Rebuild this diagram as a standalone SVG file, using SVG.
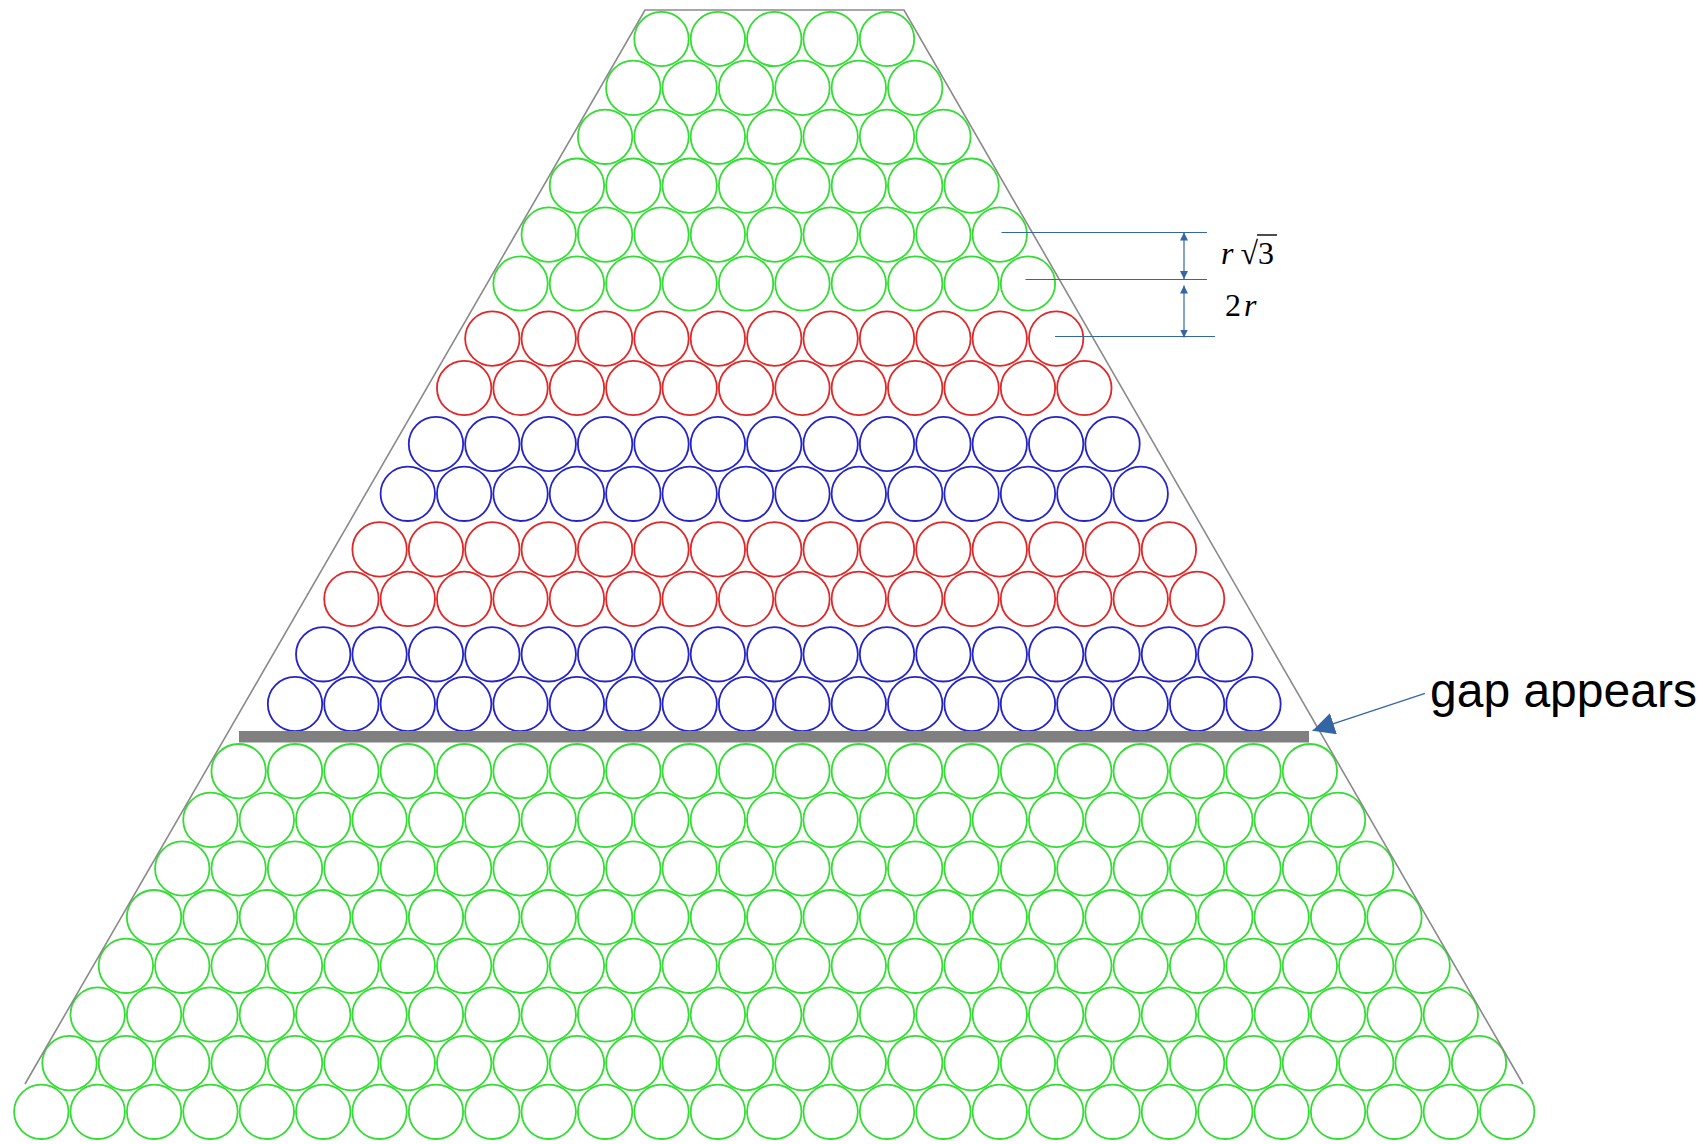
<svg xmlns="http://www.w3.org/2000/svg" width="1703" height="1144" viewBox="0 0 1703 1144">
<style>
circle{fill:none;stroke-width:1.8}
.g circle{stroke:#33dd33}
.r circle{stroke:#e02828}
.b circle{stroke:#2424c8}
.dim{stroke:#3465a4;stroke-width:1.2;fill:none}
.math{font-family:"Liberation Serif","DejaVu Serif",serif;font-size:32px;fill:#000}
</style>
<defs>
<marker id="ah" viewBox="0 0 8 8" refX="8" refY="4" markerWidth="8" markerHeight="8" markerUnits="userSpaceOnUse" orient="auto-start-reverse"><path d="M0,0 L8,4 L0,8 z" fill="#3465a4"/></marker>
<marker id="big" viewBox="0 0 22 22" refX="22" refY="11" markerWidth="22" markerHeight="22" markerUnits="userSpaceOnUse" orient="auto"><path d="M0,0 L22,11 L0,22 z" fill="#3465a4"/></marker>
</defs>
<rect width="1703" height="1144" fill="#fff"/>
<g id="pile">
<g id="row1" class="g" transform="translate(0,39)"><circle cx="661.49" r="27.2"/><circle cx="717.87" r="27.2"/><circle cx="774.25" r="27.2"/><circle cx="830.63" r="27.2"/><circle cx="887.01" r="27.2"/></g>
<g id="row2" class="g" transform="translate(0,87.9)"><circle cx="633.30" r="27.2"/><circle cx="689.68" r="27.2"/><circle cx="746.06" r="27.2"/><circle cx="802.44" r="27.2"/><circle cx="858.82" r="27.2"/><circle cx="915.20" r="27.2"/></g>
<g id="row3" class="g" transform="translate(0,136.8)"><circle cx="605.11" r="27.2"/><circle cx="661.49" r="27.2"/><circle cx="717.87" r="27.2"/><circle cx="774.25" r="27.2"/><circle cx="830.63" r="27.2"/><circle cx="887.01" r="27.2"/><circle cx="943.39" r="27.2"/></g>
<g id="row4" class="g" transform="translate(0,185.7)"><circle cx="576.92" r="27.2"/><circle cx="633.30" r="27.2"/><circle cx="689.68" r="27.2"/><circle cx="746.06" r="27.2"/><circle cx="802.44" r="27.2"/><circle cx="858.82" r="27.2"/><circle cx="915.20" r="27.2"/><circle cx="971.58" r="27.2"/></g>
<g id="row5" class="g" transform="translate(0,234.6)"><circle cx="548.73" r="27.2"/><circle cx="605.11" r="27.2"/><circle cx="661.49" r="27.2"/><circle cx="717.87" r="27.2"/><circle cx="774.25" r="27.2"/><circle cx="830.63" r="27.2"/><circle cx="887.01" r="27.2"/><circle cx="943.39" r="27.2"/><circle cx="999.77" r="27.2"/></g>
<g id="row6" class="g" transform="translate(0,283.5)"><circle cx="520.54" r="27.2"/><circle cx="576.92" r="27.2"/><circle cx="633.30" r="27.2"/><circle cx="689.68" r="27.2"/><circle cx="746.06" r="27.2"/><circle cx="802.44" r="27.2"/><circle cx="858.82" r="27.2"/><circle cx="915.20" r="27.2"/><circle cx="971.58" r="27.2"/><circle cx="1027.96" r="27.2"/></g>
<g id="row7" class="r" transform="translate(0,338.6)"><circle cx="492.35" r="27.2"/><circle cx="548.73" r="27.2"/><circle cx="605.11" r="27.2"/><circle cx="661.49" r="27.2"/><circle cx="717.87" r="27.2"/><circle cx="774.25" r="27.2"/><circle cx="830.63" r="27.2"/><circle cx="887.01" r="27.2"/><circle cx="943.39" r="27.2"/><circle cx="999.77" r="27.2"/><circle cx="1056.15" r="27.2"/></g>
<g id="row8" class="r" transform="translate(0,388)"><circle cx="464.16" r="27.2"/><circle cx="520.54" r="27.2"/><circle cx="576.92" r="27.2"/><circle cx="633.30" r="27.2"/><circle cx="689.68" r="27.2"/><circle cx="746.06" r="27.2"/><circle cx="802.44" r="27.2"/><circle cx="858.82" r="27.2"/><circle cx="915.20" r="27.2"/><circle cx="971.58" r="27.2"/><circle cx="1027.96" r="27.2"/><circle cx="1084.34" r="27.2"/></g>
<g id="row9" class="b" transform="translate(0,444)"><circle cx="435.97" r="27.2"/><circle cx="492.35" r="27.2"/><circle cx="548.73" r="27.2"/><circle cx="605.11" r="27.2"/><circle cx="661.49" r="27.2"/><circle cx="717.87" r="27.2"/><circle cx="774.25" r="27.2"/><circle cx="830.63" r="27.2"/><circle cx="887.01" r="27.2"/><circle cx="943.39" r="27.2"/><circle cx="999.77" r="27.2"/><circle cx="1056.15" r="27.2"/><circle cx="1112.53" r="27.2"/></g>
<g id="row10" class="b" transform="translate(0,493.8)"><circle cx="407.78" r="27.2"/><circle cx="464.16" r="27.2"/><circle cx="520.54" r="27.2"/><circle cx="576.92" r="27.2"/><circle cx="633.30" r="27.2"/><circle cx="689.68" r="27.2"/><circle cx="746.06" r="27.2"/><circle cx="802.44" r="27.2"/><circle cx="858.82" r="27.2"/><circle cx="915.20" r="27.2"/><circle cx="971.58" r="27.2"/><circle cx="1027.96" r="27.2"/><circle cx="1084.34" r="27.2"/><circle cx="1140.72" r="27.2"/></g>
<g id="row11" class="r" transform="translate(0,549.4)"><circle cx="379.59" r="27.2"/><circle cx="435.97" r="27.2"/><circle cx="492.35" r="27.2"/><circle cx="548.73" r="27.2"/><circle cx="605.11" r="27.2"/><circle cx="661.49" r="27.2"/><circle cx="717.87" r="27.2"/><circle cx="774.25" r="27.2"/><circle cx="830.63" r="27.2"/><circle cx="887.01" r="27.2"/><circle cx="943.39" r="27.2"/><circle cx="999.77" r="27.2"/><circle cx="1056.15" r="27.2"/><circle cx="1112.53" r="27.2"/><circle cx="1168.91" r="27.2"/></g>
<g id="row12" class="r" transform="translate(0,598.9)"><circle cx="351.40" r="27.2"/><circle cx="407.78" r="27.2"/><circle cx="464.16" r="27.2"/><circle cx="520.54" r="27.2"/><circle cx="576.92" r="27.2"/><circle cx="633.30" r="27.2"/><circle cx="689.68" r="27.2"/><circle cx="746.06" r="27.2"/><circle cx="802.44" r="27.2"/><circle cx="858.82" r="27.2"/><circle cx="915.20" r="27.2"/><circle cx="971.58" r="27.2"/><circle cx="1027.96" r="27.2"/><circle cx="1084.34" r="27.2"/><circle cx="1140.72" r="27.2"/><circle cx="1197.10" r="27.2"/></g>
<g id="row13" class="b" transform="translate(0,654.3)"><circle cx="323.21" r="27.2"/><circle cx="379.59" r="27.2"/><circle cx="435.97" r="27.2"/><circle cx="492.35" r="27.2"/><circle cx="548.73" r="27.2"/><circle cx="605.11" r="27.2"/><circle cx="661.49" r="27.2"/><circle cx="717.87" r="27.2"/><circle cx="774.25" r="27.2"/><circle cx="830.63" r="27.2"/><circle cx="887.01" r="27.2"/><circle cx="943.39" r="27.2"/><circle cx="999.77" r="27.2"/><circle cx="1056.15" r="27.2"/><circle cx="1112.53" r="27.2"/><circle cx="1168.91" r="27.2"/><circle cx="1225.29" r="27.2"/></g>
<g id="row14" class="b" transform="translate(0,704)"><circle cx="295.02" r="27.2"/><circle cx="351.40" r="27.2"/><circle cx="407.78" r="27.2"/><circle cx="464.16" r="27.2"/><circle cx="520.54" r="27.2"/><circle cx="576.92" r="27.2"/><circle cx="633.30" r="27.2"/><circle cx="689.68" r="27.2"/><circle cx="746.06" r="27.2"/><circle cx="802.44" r="27.2"/><circle cx="858.82" r="27.2"/><circle cx="915.20" r="27.2"/><circle cx="971.58" r="27.2"/><circle cx="1027.96" r="27.2"/><circle cx="1084.34" r="27.2"/><circle cx="1140.72" r="27.2"/><circle cx="1197.10" r="27.2"/><circle cx="1253.48" r="27.2"/></g>
<g id="row15" class="g" transform="translate(0,771.2)"><circle cx="238.64" r="27.2"/><circle cx="295.02" r="27.2"/><circle cx="351.40" r="27.2"/><circle cx="407.78" r="27.2"/><circle cx="464.16" r="27.2"/><circle cx="520.54" r="27.2"/><circle cx="576.92" r="27.2"/><circle cx="633.30" r="27.2"/><circle cx="689.68" r="27.2"/><circle cx="746.06" r="27.2"/><circle cx="802.44" r="27.2"/><circle cx="858.82" r="27.2"/><circle cx="915.20" r="27.2"/><circle cx="971.58" r="27.2"/><circle cx="1027.96" r="27.2"/><circle cx="1084.34" r="27.2"/><circle cx="1140.72" r="27.2"/><circle cx="1197.10" r="27.2"/><circle cx="1253.48" r="27.2"/><circle cx="1309.86" r="27.2"/></g>
<g id="row16" class="g" transform="translate(0,819.9)"><circle cx="210.45" r="27.2"/><circle cx="266.83" r="27.2"/><circle cx="323.21" r="27.2"/><circle cx="379.59" r="27.2"/><circle cx="435.97" r="27.2"/><circle cx="492.35" r="27.2"/><circle cx="548.73" r="27.2"/><circle cx="605.11" r="27.2"/><circle cx="661.49" r="27.2"/><circle cx="717.87" r="27.2"/><circle cx="774.25" r="27.2"/><circle cx="830.63" r="27.2"/><circle cx="887.01" r="27.2"/><circle cx="943.39" r="27.2"/><circle cx="999.77" r="27.2"/><circle cx="1056.15" r="27.2"/><circle cx="1112.53" r="27.2"/><circle cx="1168.91" r="27.2"/><circle cx="1225.29" r="27.2"/><circle cx="1281.67" r="27.2"/><circle cx="1338.05" r="27.2"/></g>
<g id="row17" class="g" transform="translate(0,868.5)"><circle cx="182.26" r="27.2"/><circle cx="238.64" r="27.2"/><circle cx="295.02" r="27.2"/><circle cx="351.40" r="27.2"/><circle cx="407.78" r="27.2"/><circle cx="464.16" r="27.2"/><circle cx="520.54" r="27.2"/><circle cx="576.92" r="27.2"/><circle cx="633.30" r="27.2"/><circle cx="689.68" r="27.2"/><circle cx="746.06" r="27.2"/><circle cx="802.44" r="27.2"/><circle cx="858.82" r="27.2"/><circle cx="915.20" r="27.2"/><circle cx="971.58" r="27.2"/><circle cx="1027.96" r="27.2"/><circle cx="1084.34" r="27.2"/><circle cx="1140.72" r="27.2"/><circle cx="1197.10" r="27.2"/><circle cx="1253.48" r="27.2"/><circle cx="1309.86" r="27.2"/><circle cx="1366.24" r="27.2"/></g>
<g id="row18" class="g" transform="translate(0,917.2)"><circle cx="154.07" r="27.2"/><circle cx="210.45" r="27.2"/><circle cx="266.83" r="27.2"/><circle cx="323.21" r="27.2"/><circle cx="379.59" r="27.2"/><circle cx="435.97" r="27.2"/><circle cx="492.35" r="27.2"/><circle cx="548.73" r="27.2"/><circle cx="605.11" r="27.2"/><circle cx="661.49" r="27.2"/><circle cx="717.87" r="27.2"/><circle cx="774.25" r="27.2"/><circle cx="830.63" r="27.2"/><circle cx="887.01" r="27.2"/><circle cx="943.39" r="27.2"/><circle cx="999.77" r="27.2"/><circle cx="1056.15" r="27.2"/><circle cx="1112.53" r="27.2"/><circle cx="1168.91" r="27.2"/><circle cx="1225.29" r="27.2"/><circle cx="1281.67" r="27.2"/><circle cx="1338.05" r="27.2"/><circle cx="1394.43" r="27.2"/></g>
<g id="row19" class="g" transform="translate(0,965.8)"><circle cx="125.88" r="27.2"/><circle cx="182.26" r="27.2"/><circle cx="238.64" r="27.2"/><circle cx="295.02" r="27.2"/><circle cx="351.40" r="27.2"/><circle cx="407.78" r="27.2"/><circle cx="464.16" r="27.2"/><circle cx="520.54" r="27.2"/><circle cx="576.92" r="27.2"/><circle cx="633.30" r="27.2"/><circle cx="689.68" r="27.2"/><circle cx="746.06" r="27.2"/><circle cx="802.44" r="27.2"/><circle cx="858.82" r="27.2"/><circle cx="915.20" r="27.2"/><circle cx="971.58" r="27.2"/><circle cx="1027.96" r="27.2"/><circle cx="1084.34" r="27.2"/><circle cx="1140.72" r="27.2"/><circle cx="1197.10" r="27.2"/><circle cx="1253.48" r="27.2"/><circle cx="1309.86" r="27.2"/><circle cx="1366.24" r="27.2"/><circle cx="1422.62" r="27.2"/></g>
<g id="row20" class="g" transform="translate(0,1014.5)"><circle cx="97.69" r="27.2"/><circle cx="154.07" r="27.2"/><circle cx="210.45" r="27.2"/><circle cx="266.83" r="27.2"/><circle cx="323.21" r="27.2"/><circle cx="379.59" r="27.2"/><circle cx="435.97" r="27.2"/><circle cx="492.35" r="27.2"/><circle cx="548.73" r="27.2"/><circle cx="605.11" r="27.2"/><circle cx="661.49" r="27.2"/><circle cx="717.87" r="27.2"/><circle cx="774.25" r="27.2"/><circle cx="830.63" r="27.2"/><circle cx="887.01" r="27.2"/><circle cx="943.39" r="27.2"/><circle cx="999.77" r="27.2"/><circle cx="1056.15" r="27.2"/><circle cx="1112.53" r="27.2"/><circle cx="1168.91" r="27.2"/><circle cx="1225.29" r="27.2"/><circle cx="1281.67" r="27.2"/><circle cx="1338.05" r="27.2"/><circle cx="1394.43" r="27.2"/><circle cx="1450.81" r="27.2"/></g>
<g id="row21" class="g" transform="translate(0,1063.1)"><circle cx="69.50" r="27.2"/><circle cx="125.88" r="27.2"/><circle cx="182.26" r="27.2"/><circle cx="238.64" r="27.2"/><circle cx="295.02" r="27.2"/><circle cx="351.40" r="27.2"/><circle cx="407.78" r="27.2"/><circle cx="464.16" r="27.2"/><circle cx="520.54" r="27.2"/><circle cx="576.92" r="27.2"/><circle cx="633.30" r="27.2"/><circle cx="689.68" r="27.2"/><circle cx="746.06" r="27.2"/><circle cx="802.44" r="27.2"/><circle cx="858.82" r="27.2"/><circle cx="915.20" r="27.2"/><circle cx="971.58" r="27.2"/><circle cx="1027.96" r="27.2"/><circle cx="1084.34" r="27.2"/><circle cx="1140.72" r="27.2"/><circle cx="1197.10" r="27.2"/><circle cx="1253.48" r="27.2"/><circle cx="1309.86" r="27.2"/><circle cx="1366.24" r="27.2"/><circle cx="1422.62" r="27.2"/><circle cx="1479.00" r="27.2"/></g>
<g id="row22" class="g" transform="translate(0,1111.8)"><circle cx="41.31" r="27.2"/><circle cx="97.69" r="27.2"/><circle cx="154.07" r="27.2"/><circle cx="210.45" r="27.2"/><circle cx="266.83" r="27.2"/><circle cx="323.21" r="27.2"/><circle cx="379.59" r="27.2"/><circle cx="435.97" r="27.2"/><circle cx="492.35" r="27.2"/><circle cx="548.73" r="27.2"/><circle cx="605.11" r="27.2"/><circle cx="661.49" r="27.2"/><circle cx="717.87" r="27.2"/><circle cx="774.25" r="27.2"/><circle cx="830.63" r="27.2"/><circle cx="887.01" r="27.2"/><circle cx="943.39" r="27.2"/><circle cx="999.77" r="27.2"/><circle cx="1056.15" r="27.2"/><circle cx="1112.53" r="27.2"/><circle cx="1168.91" r="27.2"/><circle cx="1225.29" r="27.2"/><circle cx="1281.67" r="27.2"/><circle cx="1338.05" r="27.2"/><circle cx="1394.43" r="27.2"/><circle cx="1450.81" r="27.2"/><circle cx="1507.19" r="27.2"/></g>
</g>
<g id="container">
<polyline points="25,1084 645,10 904,10 1523,1084" fill="none" stroke="#8a8a8a" stroke-width="1.6"/>
<rect id="gap-bar" x="239" y="731" width="1070" height="11.5" fill="#808080"/>
</g>
<g id="connectors">
<line class="dim" x1="1001.5" y1="232.5" x2="1207" y2="232.5"/>
<line class="dim" x1="1025.5" y1="279.5" x2="1207" y2="279.5"/>
<line class="dim" x1="1055" y1="336.5" x2="1215" y2="336.5"/>
<line class="dim" x1="1184" y1="232.5" x2="1184" y2="279" marker-start="url(#ah)" marker-end="url(#ah)"/>
<line class="dim" x1="1184" y1="285.5" x2="1184" y2="337.5" marker-start="url(#ah)" marker-end="url(#ah)"/>
<line x1="1425" y1="693.3" x2="1312.5" y2="730.7" stroke="#3465a4" stroke-width="1.3" marker-end="url(#big)"/>
</g>
<g id="labels">
<text class="math" x="1221" y="264"><tspan font-style="italic">r</tspan><tspan dx="7">√3</tspan></text>
<line x1="1257" y1="235" x2="1277" y2="235" stroke="#000" stroke-width="1.4"/>
<text class="math" x="1225" y="316">2<tspan font-style="italic" dx="3">r</tspan></text>
<text x="1430" y="707" font-family="Liberation Sans, Arial, sans-serif" font-size="48" fill="#000">gap appears</text>
</g>
</svg>
